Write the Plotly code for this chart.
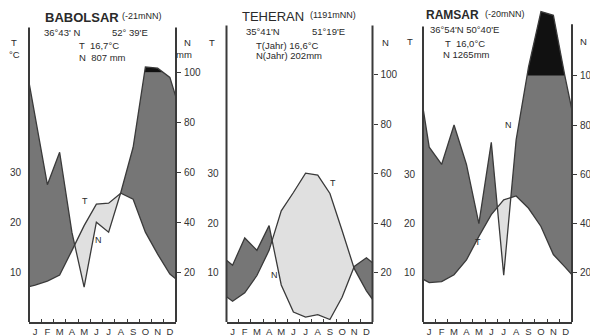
import numpy as np
import plotly.graph_objects as go

# ---------------- data ----------------
months = ["J", "F", "M", "A", "M", "J", "J", "A", "S", "O", "N", "D"]

# Babolsar
bab_T = [7.4, 8.2, 9.4, 14.3, 19.3, 23.6, 23.8, 25.8, 24.6, 18.0, 13.6, 9.6]
bab_T_edge = [7.1, 8.6]
bab_N = [82, 55, 68, 36, 14, 40, 36, 52, 70, 122, 117, 98]
bab_N_edge = [96, 90]

# Teheran
teh_T = [4.2, 5.9, 9.4, 14.5, 22.5, 26.2, 30.1, 29.7, 26.0, 18.5, 10.8, 6.3]
teh_T_edge = [5.1, 4.6]
teh_N = [23, 34, 29, 39, 15, 4, 2, 3, 1, 10, 22.5, 26]
teh_N_edge = [25, 24]

# Ramsar
ram_T = [8.0, 8.2, 9.6, 12.6, 17.4, 21.8, 24.8, 25.6, 23.1, 19.4, 13.7, 11.0]
ram_T_edge = [8.7, 9.6]
ram_N = [71, 64, 80, 64, 40, 73, 19, 74, 136, 361, 346, 98]
ram_N_edge = [87, 86]

W, H = 590, 336
FONT = "Liberation Sans, Arial, sans-serif"
LINE = "#3a3a3a"
DARK = "#767676"
LIGHT = "#e0e0e0"

panels = [
    dict(T=bab_T, Te=bab_T_edge, N=bab_N, Ne=bab_N_edge, x0=29, x1=176, top=64.5,
         axtop_l=59, axtop_r=59),
    dict(T=teh_T, Te=teh_T_edge, N=teh_N, Ne=teh_N_edge, x0=226.5, x1=372.5, top=65.15,
         axtop_l=60, axtop_r=60),
    dict(T=ram_T, Te=ram_T_edge, N=ram_N, Ne=ram_N_edge, x0=423, x1=572, top=65.4,
         axtop_l=60, axtop_r=60.5),
]


def n_to_v(n):
    # Walter-Lieth scale: 10 degC = 20 mm, above 100 mm reduced 1:10
    return n / 2.0 if n <= 100 else 50 + (n - 100) / 20.0


def refine(x, t, v):
    X, TT, VV = [x[0]], [t[0]], [v[0]]
    for i in range(len(x) - 1):
        x0, x1 = x[i], x[i + 1]
        t0, t1 = t[i], t[i + 1]
        v0, v1 = v[i], v[i + 1]
        cuts = []
        d0, d1 = v0 - t0, v1 - t1
        if d0 * d1 < 0:
            cuts.append(d0 / (d0 - d1))
        e0, e1 = v0 - 50, v1 - 50
        if e0 * e1 < 0:
            cuts.append(e0 / (e0 - e1))
        for f in sorted(cuts):
            X.append(x0 + f * (x1 - x0))
            TT.append(t0 + f * (t1 - t0))
            VV.append(v0 + f * (v1 - v0))
        X.append(x1)
        TT.append(t1)
        VV.append(v1)
    return np.array(X), np.array(TT), np.array(VV)


fig = go.Figure()
layout = {}
shapes = []

for k, p in enumerate(panels):
    xa = "x" if k == 0 else f"x{k + 1}"
    yl = "y" if k == 0 else f"y{2 * k + 1}"
    yr = f"y{2 * k + 2}"
    xs = [0.0] + [i + 0.5 for i in range(12)] + [12.0]
    T = [p["Te"][0]] + list(p["T"]) + [p["Te"][1]]
    V = [n_to_v(n) for n in [p["Ne"][0]] + list(p["N"]) + [p["Ne"][1]]]
    X, TT, VV = refine(xs, T, V)
    humid_top = np.minimum(np.maximum(VV, TT), 50)
    arid_bot = np.minimum(VV, TT)
    black_top = np.maximum(VV, 50)
    fifty = np.full_like(X, 50.0)

    def add(y, fill=None, color=None, line=None):
        fig.add_trace(go.Scatter(
            x=X, y=y, xaxis=xa, yaxis=yl, mode="lines",
            line=line if line else dict(width=0, color="rgba(0,0,0,0)"),
            fill=fill, fillcolor=color, hoverinfo="skip", showlegend=False))

    add(TT)
    add(humid_top, "tonexty", DARK)
    add(TT)
    add(arid_bot, "tonexty", LIGHT)
    add(fifty)
    add(black_top, "tonexty", "#111111")
    add(VV, line=dict(color=LINE, width=1.3))
    add(TT, line=dict(color=LINE, width=1.3))
    # empty trace so the right-hand (precipitation) axis is drawn
    fig.add_trace(go.Scatter(x=[None], y=[None], xaxis=xa, yaxis=yr, mode="lines",
                             hoverinfo="skip", showlegend=False))

    xkey = "xaxis" if k == 0 else f"xaxis{k + 1}"
    ylkey = "yaxis" if k == 0 else f"yaxis{2 * k + 1}"
    yrkey = f"yaxis{2 * k + 2}"
    layout[xkey] = dict(
        domain=[p["x0"] / W, p["x1"] / W], range=[0, 12], anchor=yl, automargin=False,
        showline=True, linecolor=LINE, linewidth=1.5, showgrid=False, zeroline=False,
        tickmode="array", tickvals=[i + 0.5 for i in range(12)], ticktext=months,
        ticks="", ticklabelstandoff=0,
        tickfont=dict(family=FONT, size=9.5, color="#333"),
        minor=dict(tickmode="array", tickvals=list(range(1, 12)), ticks="inside",
                   ticklen=3, tickcolor=LINE, tickwidth=1),
        fixedrange=True,
    )
    layout[ylkey] = dict(
        domain=[0, 1], range=[0, p["top"]], anchor=xa, showgrid=False, zeroline=False,
        automargin=False, showline=False, tickmode="array", tickvals=[10, 20, 30],
        ticktext=["10", "20", "30"], ticks="", ticklabelstandoff=7,
        tickfont=dict(family=FONT, size=10, color="#333"), fixedrange=True,
    )
    layout[yrkey] = dict(
        overlaying=yl, side="right", anchor=xa, range=[0, p["top"]], showgrid=False,
        automargin=False, zeroline=False, showline=False, tickmode="array",
        tickvals=[10, 20, 30, 40, 50],
        ticktext=["20", "40", "60", "80", "100"], ticks="outside", ticklen=4,
        tickcolor=LINE, tickwidth=1, ticklabelstandoff=1,
        tickfont=dict(family=FONT, size=10, color="#333"), fixedrange=True,
    )
    shapes.append(dict(type="line", xref=f"{xa} domain", yref=yl, x0=0, x1=0,
                       y0=0, y1=p["axtop_l"], line=dict(color=LINE, width=2)))
    shapes.append(dict(type="line", xref=f"{xa} domain", yref=yl, x0=1, x1=1,
                       y0=0, y1=p["axtop_r"], line=dict(color=LINE, width=2)))

texts = [
    # Babolsar
    ("<b>BABOLSAR</b>", 43, 18, 13, "left"), ("(-21mNN)", 120, 17, 9, "left"),
    ("36°43' N", 42, 34, 9.5, "left"), ("52° 39'E", 110, 34, 9.5, "left"),
    ("T", 14, 44, 9.5, "center"), ("°C", 14, 57, 9.5, "center"),
    ("T  16,7°C", 77, 48, 9.5, "left"), ("N  807 mm", 77, 60, 9.5, "left"),
    ("N", 187, 44, 9.5, "center"), ("mm", 184, 57, 9.5, "center"),
    ("T", 85, 210, 9, "center"), ("N", 98, 250, 9, "center"),
    # Teheran
    ("TEHERAN", 240, 17, 13, "left"), ("(1191mNN)", 308, 16, 9, "left"),
    ("35°41'N", 244, 33, 9.5, "left"), ("51°19'E", 310, 33, 9.5, "left"),
    ("T", 212, 44, 9.5, "center"), ("N", 385, 44, 9.5, "center"),
    ("T(Jahr) 16,6°C", 254, 47, 9.5, "left"), ("N(Jahr) 202mm", 254, 58, 9.5, "left"),
    ("T", 333, 191, 9, "center"), ("N", 274, 287, 9, "center"),
    # Ramsar
    ("<b>RAMSAR</b>", 424, 16, 12, "left"), ("(-20mNN)", 483, 15, 9, "left"),
    ("36°54'N 50°40'E", 428, 31, 9.5, "left"),
    ("T  16,0°C", 443, 45, 9.5, "left"), ("N 1265mm", 441, 57, 9.5, "left"),
    ("T", 410, 43, 9.5, "center"), ("N", 583, 43, 9.5, "center"),
    ("N", 508, 130, 9, "center"), ("T", 478, 252, 9, "center"),
]
annotations = []
for txt, x, y, size, anc in texts:
    annotations.append(dict(text=txt, x=x / W, y=1 - y / H, xref="paper", yref="paper",
                            xanchor=anc, yanchor="middle", showarrow=False,
                            font=dict(family=FONT, size=size, color="#2a2a2a")))

fig.update_layout(
    width=W, height=H, margin=dict(l=0, r=0, t=0, b=13.5),
    paper_bgcolor="white", plot_bgcolor="white", showlegend=False,
    shapes=shapes, annotations=annotations, **layout,
)

fig.write_html("out.html", config={"displayModeBar": False},
               post_script="document.body.style.margin='0';document.body.style.padding='0';")
